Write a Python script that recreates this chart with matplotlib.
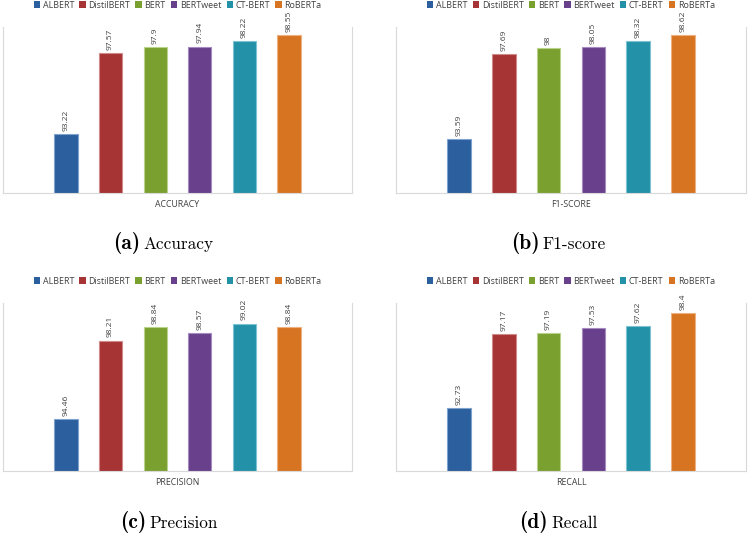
import matplotlib
matplotlib.use("Agg")
import matplotlib.pyplot as plt
from matplotlib.patches import Patch

models = ["ALBERT", "DistilBERT", "BERT", "BERTweet", "CT-BERT", "RoBERTa"]
accuracy = [93.22, 97.57, 97.9, 97.94, 98.22, 98.55]
f1_score = [93.59, 97.69, 98, 98.05, 98.32, 98.62]
precision = [94.46, 98.21, 98.84, 98.57, 99.02, 98.84]
recall = [92.73, 97.17, 97.19, 97.53, 97.62, 98.4]
metric_labels = ["ACCURACY", "F1-SCORE", "PRECISION", "RECALL"]
caption_tags = ["(a)", "(b)", "(c)", "(d)"]
caption_names = ["Accuracy", "F1-score", "Precision", "Recall"]
y_limits = [(90, 99), (91, 99), (92, 100), (89, 99)]

colors = ["#2C5F9E", "#A63434", "#7AA030", "#68408C", "#2392A8", "#D67422"]
edge_colors = ["#7FA3CF", "#D08A8A", "#B9D38A", "#A58BC0", "#7CC4D3", "#EDB07E"]

W, H = 749, 533
fig = plt.figure(figsize=(W / 100, H / 100), dpi=100)
fig.patch.set_facecolor("white")

font = "Open Sans"
# axes rectangles in pixel coords: (left, top, right, bottom)
rects = [(3, 27, 352, 193), (396, 27, 746, 193), (3, 303, 352, 470.7), (396, 303, 746, 470.7)]
caption_pos = [(140, 249), (540, 249), (146, 528), (548, 528)]
all_values = [accuracy, f1_score, precision, recall]

for i, (vals, rect) in enumerate(zip(all_values, rects)):
    l, t, r, b = rect
    ax = fig.add_axes([l / W, 1 - b / H, (r - l) / W, (b - t) / H])
    x = list(range(len(models)))
    ax.bar(x, vals, width=0.52, color=colors, edgecolor=edge_colors, linewidth=0.8)
    ax.set_ylim(*y_limits[i])
    ax.set_xlim(-1.41, 6.41)
    for xi, v in zip(x, vals):
        ax.annotate(f"{v:g}", (xi, v), xytext=(0, 2.2), textcoords="offset points",
                    rotation=90, ha="center", va="bottom", fontsize=6.0,
                    color="#404040", family=font, annotation_clip=False)
    for s in ["left", "right", "bottom"]:
        ax.spines[s].set_color("#D9D9D9")
        ax.spines[s].set_linewidth(0.8)
    ax.spines["top"].set_visible(False)
    ax.set_xticks([])
    ax.set_yticks([])
    ax.set_xlabel(metric_labels[i], fontsize=6.3, color="#404040", family=font, labelpad=5)
    handles = [Patch(facecolor=c, edgecolor="none") for c in colors]
    leg = ax.legend(handles, models, loc="center", bbox_to_anchor=(0.5, 1 + 22 / (b - t)),
                    ncol=6, frameon=False, fontsize=6.4, handlelength=0.7, handleheight=0.7,
                    handletextpad=0.3, columnspacing=0.6, borderaxespad=0)
    for txt in leg.get_texts():
        txt.set_color("#404040")
        txt.set_family(font)
    cx, cy = caption_pos[i]
    fig.text(cx / W, 1 - cy / H, caption_tags[i], ha="right", va="baseline",
             family="cmb10", fontsize=15.5, color="black")
    fig.text((cx + 3) / W, 1 - cy / H, caption_names[i], ha="left", va="baseline",
             family="cmr10", fontsize=12.4, color="black")

fig.savefig("out.png", dpi=100, facecolor="white")
